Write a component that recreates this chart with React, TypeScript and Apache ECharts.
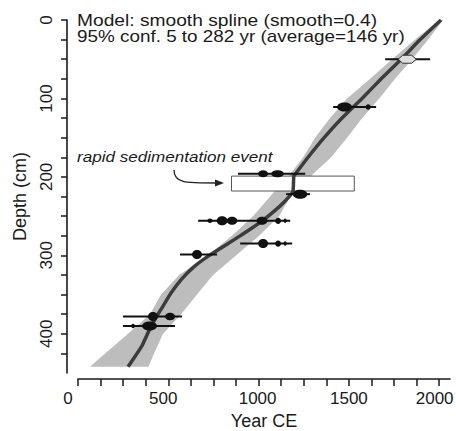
import React, { useEffect, useRef } from 'react';
import * as echarts from 'echarts';

const FONT = '"Liberation Sans", Arial, Helvetica, sans-serif';
const INK = '#1a1a1a';

// axis ticks and labels
const X_TICKS = [0, 125, 250, 375, 500, 625, 750, 875, 1000, 1125, 1250, 1375, 1500, 1625, 1750, 1875, 2000];
const X_LABELS = [0, 500, 1000, 1500, 2000];
const Y_TICKS = [0, 25, 50, 75, 100, 125, 150, 175, 200, 225, 250, 275, 300, 325, 350, 375, 400, 425];
const Y_LABELS = [0, 100, 200, 300, 400];

// 95% confidence envelope
const bandDepth = [0, 25, 50, 75, 100, 125, 150, 175, 195, 199, 219, 225, 250, 275, 300, 325, 350, 375, 400, 425, 442];
const bandLo = [2000, 1867, 1740, 1618, 1490, 1396, 1313, 1247, 1180, 1169, 1086, 1064, 970, 853, 720, 560, 460, 399, 277, 150, 67];
const bandHi = [2022, 1939, 1850, 1756, 1668, 1574, 1490, 1402, 1307, 1291, 1195, 1175, 1114, 1003, 876, 748, 659, 571, 471, 421, 390];

// best model (smooth spline)
const modelYear = [2010, 1895, 1790, 1679, 1573, 1462, 1363, 1274, 1208, 1195, 1190, 1150, 1090, 1020, 945, 865, 790, 715, 640, 575, 515, 470, 430, 395, 355, 277];
const modelDepth = [0, 25, 50, 75, 100, 125, 150, 175, 195, 199, 219, 230, 243, 256, 268, 280, 291, 302, 315, 330, 348, 365, 380, 395, 415, 442];

// dated levels: 95% ranges
const dateDepth = [50, 111, 196, 222, 256, 285, 299, 378, 390];
const dateLo = [1701, 1413, 886, 1152, 665, 898, 565, 249, 249];
const dateHi = [1950, 1651, 1258, 1285, 1175, 1186, 770, 576, 537];

// calibrated probability peaks
const blobYear = [1476, 1607, 1025, 1105, 1230, 731, 798, 853, 1019, 1108, 1147, 1025, 1108, 1147, 659, 415, 510, 305, 396];
const blobDepth = [111, 111, 196, 196, 222, 256, 256, 256, 256, 256, 256, 285, 285, 285, 299, 378, 378, 390, 390];
const blobWidth = [83, 28, 55, 70, 80, 30, 60, 60, 61, 33, 17, 55, 33, 17, 55, 55, 55, 22, 83];
const blobWeight = [1, 0.6, 0.8, 0.8, 1, 0.5, 1, 0.9, 0.9, 0.7, 0.5, 1, 0.7, 0.5, 1, 1, 0.85, 0.5, 1];

// modern (grey) date
const modernYear = [1823];
const modernDepth = [50];
const modernWidth = [100];

// rapid sedimentation event
const eventYear = [850, 1530];
const eventDepth = [199, 218];

const labelPad: Record<number, number> = { 0: 20, 500: 10, 1000: 2, 1500: 0, 2000: 9 };

function buildOption(): any {
  const rich: any = {};
  Object.values(labelPad).forEach((p) => {
    rich['p' + p] = { padding: [0, p, 0, 0], fontSize: 17, fontFamily: FONT, color: INK };
  });
  return {
    animation: false,
    backgroundColor: '#fff',
    grid: { left: 78, top: 20, width: 372, height: 353, containLabel: false, outerBoundsMode: 'none' },
    xAxis: {
      type: 'value',
      min: 0,
      max: 2060,
      offset: 6,
      splitLine: { show: false },
      axisLine: { show: true, onZero: false, lineStyle: { color: INK, width: 1.6 } },
      axisTick: { show: true, length: 7, lineStyle: { color: INK, width: 1.5 }, customValues: X_TICKS },
      axisLabel: {
        customValues: X_LABELS,
        margin: 11,
        fontSize: 17,
        fontFamily: FONT,
        color: INK,
        formatter: (v: number) => `{p${labelPad[v] ?? 0}|${v}}`,
        rich,
      },
      name: 'Year CE',
      nameLocation: 'middle',
      nameGap: 31,
      nameTextStyle: { fontSize: 18, fontFamily: FONT, color: INK },
    },
    yAxis: {
      type: 'value',
      min: 0,
      max: 450,
      inverse: true,
      offset: 11,
      splitLine: { show: false },
      axisLine: { show: true, onZero: false, lineStyle: { color: INK, width: 1.6 } },
      axisTick: { show: true, length: 6, lineStyle: { color: INK, width: 1.5 }, customValues: Y_TICKS },
      axisLabel: {
        customValues: Y_LABELS,
        rotate: 90,
        margin: 12,
        fontSize: 17,
        fontFamily: FONT,
        color: INK,
      },
      name: 'Depth (cm)',
      nameLocation: 'middle',
      nameGap: 38,
      nameRotate: 90,
      nameTextStyle: { fontSize: 18, fontFamily: FONT, color: INK },
    },
    graphic: [
      {
        type: 'text', x: 77, y: 13, scaleX: 1.2, z: 100,
        style: { text: 'Model: smooth spline (smooth=0.4)', fontSize: 16, fontFamily: FONT, fill: INK, verticalAlign: 'top', align: 'left' },
      },
      {
        type: 'text', x: 77, y: 29, scaleX: 1.18, z: 100,
        style: { text: '95% conf. 5 to 282 yr (average=146 yr)', fontSize: 16, fontFamily: FONT, fill: INK, verticalAlign: 'top', align: 'left' },
      },
      {
        type: 'text', x: 77, y: 150, scaleX: 1.22, z: 100,
        style: { text: 'rapid sedimentation event', fontSize: 14, fontStyle: 'italic', fontFamily: FONT, fill: INK, verticalAlign: 'top', align: 'left' },
      },
      {
        type: 'bezierCurve', z: 100,
        shape: { x1: 174, y1: 170, cpx1: 174, cpy1: 183, cpx2: 184, cpy2: 183, x2: 217, y2: 183 },
        style: { stroke: '#222', lineWidth: 1.3, fill: 'none' },
      },
      {
        type: 'polygon', z: 100,
        shape: { points: [[215, 179.5], [224, 183], [215, 186.5]] },
        style: { fill: '#222' },
      },
    ],
    series: [
      {
        type: 'custom',
        name: 'band',
        z: 1,
        data: [[0, 0]],
        renderItem: (_p: any, api: any) => {
          const pts: number[][] = [];
          for (let i = 0; i < bandDepth.length; i++) pts.push(api.coord([bandLo[i], bandDepth[i]]));
          for (let i = bandDepth.length - 1; i >= 0; i--) pts.push(api.coord([bandHi[i], bandDepth[i]]));
          return { type: 'polygon', shape: { points: pts }, style: { fill: '#bdbdbd' } };
        },
      },
      {
        type: 'custom',
        name: 'event',
        z: 2,
        data: [[eventYear[0], eventDepth[0], eventYear[1], eventDepth[1]]],
        renderItem: (_p: any, api: any) => {
          const a = api.coord([api.value(0), api.value(1)]);
          const b = api.coord([api.value(2), api.value(3)]);
          return {
            type: 'rect',
            shape: { x: a[0], y: a[1], width: b[0] - a[0], height: b[1] - a[1] },
            style: { fill: '#fff', stroke: '#555', lineWidth: 1 },
          };
        },
      },
      {
        type: 'line',
        name: 'model',
        z: 3,
        data: modelYear.map((y, i) => [y, modelDepth[i]]),
        showSymbol: false,
        smooth: 0.15,
        lineStyle: { color: '#3c3c3c', width: 3.5 },
      },
      {
        type: 'custom',
        name: 'ranges',
        z: 4,
        data: dateDepth.map((d, i) => [dateLo[i], dateHi[i], d]),
        encode: { x: [0, 1], y: 2 },
        renderItem: (_p: any, api: any) => {
          const a = api.coord([api.value(0), api.value(2)]);
          const b = api.coord([api.value(1), api.value(2)]);
          return { type: 'line', shape: { x1: a[0], y1: a[1], x2: b[0], y2: b[1] }, style: { stroke: '#111', lineWidth: 2 } };
        },
      },
      {
        type: 'custom',
        name: 'peaks',
        z: 5,
        data: blobYear.map((y, i) => [y, blobDepth[i], blobWidth[i], blobWeight[i]]),
        encode: { x: 0, y: 1 },
        renderItem: (_p: any, api: any) => {
          const c = api.coord([api.value(0), api.value(1)]);
          const w = api.size([api.value(2), 0])[0];
          return {
            type: 'ellipse',
            shape: { cx: c[0], cy: c[1], rx: w / 2, ry: 4.5 * api.value(3) },
            style: { fill: '#111' },
          };
        },
      },
      {
        type: 'custom',
        name: 'modern',
        z: 6,
        data: modernYear.map((y, i) => [y, modernDepth[i], modernWidth[i]]),
        encode: { x: 0, y: 1 },
        renderItem: (_p: any, api: any) => {
          const c = api.coord([api.value(0), api.value(1)]);
          const w = api.size([api.value(2), 0])[0];
          const h = 4;
          return {
            type: 'polygon',
            shape: {
              points: [
                [c[0] - w / 2, c[1]], [c[0] - w / 4, c[1] - h], [c[0] + w / 4, c[1] - h],
                [c[0] + w / 2, c[1]], [c[0] + w / 4, c[1] + h], [c[0] - w / 4, c[1] + h],
              ],
            },
            style: { fill: '#dedede', stroke: '#333', lineWidth: 1 },
          };
        },
      },
    ],
  };
}

export default function App() {
  const ref = useRef<HTMLDivElement>(null);
  useEffect(() => {
    const chart = echarts.init(ref.current!, null, { renderer: 'svg' });
    chart.setOption(buildOption());
    return () => chart.dispose();
  }, []);
  return (
    <div
      ref={ref}
      style={{ position: 'fixed', left: 0, top: 0, width: 456, height: 431, background: '#fff' }}
    />
  );
}
